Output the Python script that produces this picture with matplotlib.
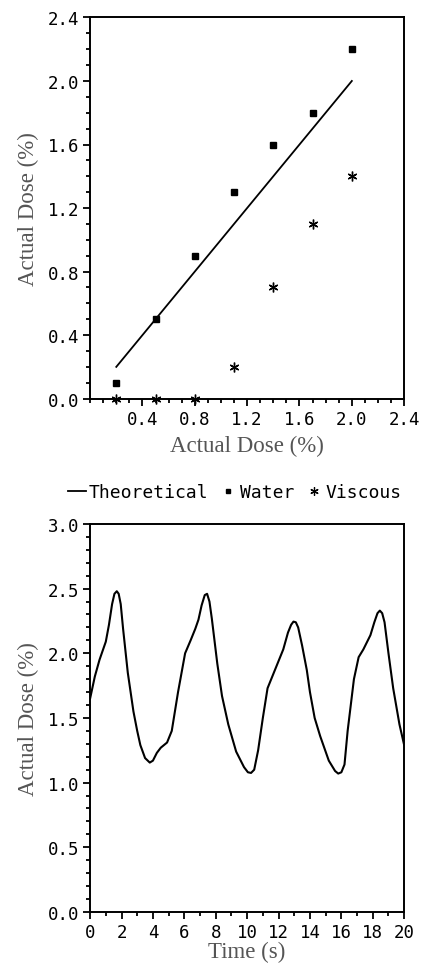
import matplotlib
matplotlib.use("Agg")
import matplotlib.pyplot as plt
from matplotlib.lines import Line2D
from matplotlib.ticker import MultipleLocator

# top panel: set vs actual dose
theory_x = [0.2, 2.0]
theory_y = [0.2, 2.0]
water_x = [0.2, 0.5, 0.8, 1.1, 1.4, 1.7, 2.0]
water_y = [0.1, 0.5, 0.9, 1.3, 1.6, 1.8, 2.2]
visc_x = [0.2, 0.5, 0.8, 1.1, 1.4, 1.7, 2.0]
visc_y = [0.0, 0.0, 0.0, 0.2, 0.7, 1.1, 1.4]

# bottom panel: dose over time
time_s = [0.0, 0.3, 0.6, 1.0, 1.2, 1.4, 1.55, 1.7, 1.82, 1.95, 2.1, 2.4, 2.76, 3.0, 3.2,
          3.5, 3.8, 4.0, 4.25, 4.5, 4.9, 5.2, 5.6, 6.05, 6.4, 6.7, 6.9, 7.1, 7.3, 7.45,
          7.6, 7.75, 8.1, 8.4, 8.8, 9.3, 9.8, 10.05, 10.25, 10.45, 10.7, 11.0, 11.3, 11.8,
          12.3, 12.6, 12.8, 12.95, 13.1, 13.25, 13.5, 13.8, 14.0, 14.3, 14.65, 15.2, 15.6,
          15.8, 16.0, 16.2, 16.4, 16.8, 17.1, 17.4, 17.85, 18.1, 18.3, 18.45, 18.6, 18.75,
          19.0, 19.3, 19.7, 20.0]
dose = [1.65, 1.82, 1.95, 2.09, 2.22, 2.38, 2.46, 2.48, 2.46, 2.38, 2.19, 1.85, 1.55, 1.40, 1.29,
        1.19, 1.155, 1.17, 1.23, 1.27, 1.31, 1.40, 1.70, 2.00, 2.10, 2.19, 2.26, 2.37, 2.45, 2.46,
        2.40, 2.27, 1.92, 1.67, 1.45, 1.24, 1.12, 1.08, 1.075, 1.10, 1.25, 1.50, 1.73, 1.88,
        2.03, 2.16, 2.22, 2.245, 2.24, 2.20, 2.06, 1.87, 1.70, 1.50, 1.36, 1.17, 1.09,
        1.07, 1.08, 1.14, 1.40, 1.80, 1.97, 2.03, 2.14, 2.24, 2.31, 2.33, 2.31, 2.24,
        2.00, 1.73, 1.45, 1.29]

mono = "DejaVu Sans Mono"
serif = "Liberation Serif"
label_color = "#555555"

fig = plt.figure(figsize=(4.25, 9.7), dpi=100)
ax1 = fig.add_axes([0.212, 0.588, 0.739, 0.393])
ax2 = fig.add_axes([0.212, 0.0588, 0.739, 0.400])


def style(ax):
    for s in ax.spines.values():
        s.set_linewidth(1.4)
    ax.tick_params(which="both", direction="out", top=False, right=False, width=1.3,
                   labelsize=12.5, pad=3)
    ax.tick_params(which="major", length=5)
    ax.tick_params(which="minor", length=3)
    for lab in ax.get_xticklabels() + ax.get_yticklabels():
        lab.set_fontfamily(mono)


ax1.plot(theory_x, theory_y, color="black", lw=1.3)
ax1.plot(water_x, water_y, ls="none", marker="s", ms=4.5, color="black", clip_on=False)
ax1.plot(visc_x, visc_y, ls="none", marker=(6, 2, 0), ms=7, mew=1.0, color="black",
         clip_on=False)
ax1.set_xlim(0, 2.4)
ax1.set_ylim(0, 2.4)
ax1.xaxis.set_major_locator(MultipleLocator(0.4))
ax1.xaxis.set_minor_locator(MultipleLocator(0.1))
ax1.yaxis.set_major_locator(MultipleLocator(0.4))
ax1.yaxis.set_minor_locator(MultipleLocator(0.1))
ax1.set_xticks([0.4, 0.8, 1.2, 1.6, 2.0, 2.4])
ax1.set_xticklabels(["0.4", "0.8", "1.2", "1.6", "2.0", "2.4"])
ax1.set_yticks([0.0, 0.4, 0.8, 1.2, 1.6, 2.0, 2.4])
ax1.set_yticklabels(["0.0", "0.4", "0.8", "1.2", "1.6", "2.0", "2.4"])
ax1.set_xlabel("Actual Dose (%)", family=serif, fontsize=16.5, color=label_color, labelpad=5)
ax1.set_ylabel("Actual Dose (%)", family=serif, fontsize=16.5, color=label_color, labelpad=6)
style(ax1)

handles = [
    Line2D([], [], color="black", lw=1.3),
    Line2D([], [], ls="none", marker="s", ms=3.5, color="black"),
    Line2D([], [], ls="none", marker=(6, 2, 0), ms=6, mew=0.9, color="black"),
]
fig.legend(handles, ["Theoretical", "Water", "Viscous"], loc="center left",
           bbox_to_anchor=(0.16, 0.4915), ncol=3, frameon=False,
           prop={"family": mono, "size": 13}, handlelength=1.0,
           handletextpad=0.15, columnspacing=0.6, borderaxespad=0, borderpad=0)

ax2.plot(time_s, dose, color="black", lw=1.5)
ax2.set_xlim(0, 20)
ax2.set_ylim(0, 3.0)
ax2.xaxis.set_major_locator(MultipleLocator(2))
ax2.xaxis.set_minor_locator(MultipleLocator(1))
ax2.yaxis.set_major_locator(MultipleLocator(0.5))
ax2.yaxis.set_minor_locator(MultipleLocator(0.1))
ax2.set_xticks(list(range(0, 21, 2)))
ax2.set_xticklabels([str(v) for v in range(0, 21, 2)])
ax2.set_yticks([0.0, 0.5, 1.0, 1.5, 2.0, 2.5, 3.0])
ax2.set_yticklabels(["0.0", "0.5", "1.0", "1.5", "2.0", "2.5", "3.0"])
ax2.set_xlabel("Time (s)", family=serif, fontsize=16.5, color=label_color, labelpad=0)
ax2.set_ylabel("Actual Dose (%)", family=serif, fontsize=16.5, color=label_color, labelpad=6)
style(ax2)

fig.savefig("out.png", dpi=100)
